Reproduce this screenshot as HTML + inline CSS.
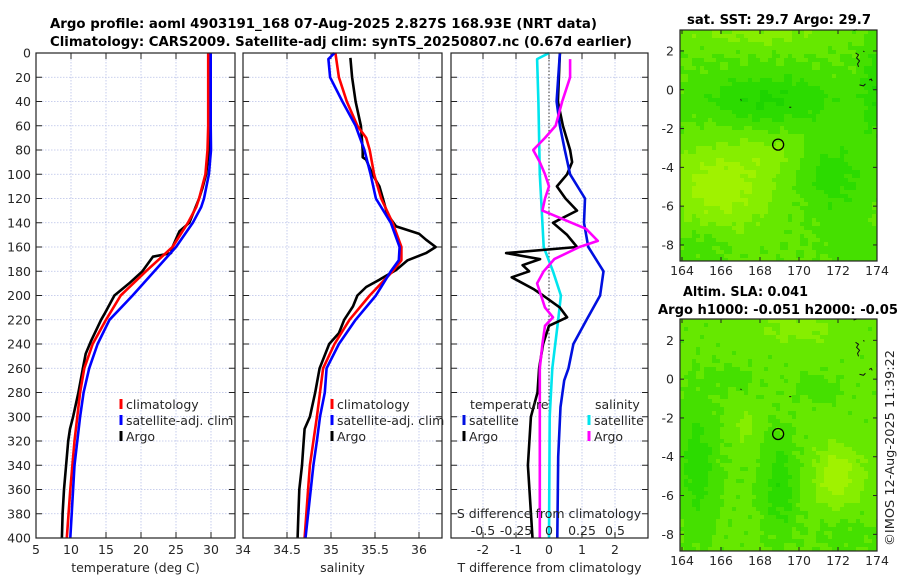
<!DOCTYPE html>
<html><head><meta charset="utf-8">
<style>
html,body{margin:0;padding:0;background:#fff;}
svg{display:block;font-family:"DejaVu Sans","Liberation Sans",sans-serif;}
.t{font-size:12.5px;fill:#262626;}
.b{font-weight:bold;font-size:13.5px;fill:#000;}
</style></head>
<body>
<svg id="fig" width="900" height="580" viewBox="0 0 900 580" xmlns="http://www.w3.org/2000/svg">
<rect width="900" height="580" fill="#fff"/>
<text class="b" x="50" y="28" textLength="547" lengthAdjust="spacingAndGlyphs">Argo profile: aoml 4903191_168 07-Aug-2025 2.827S 168.93E (NRT data)</text>
<text class="b" x="50" y="46" textLength="582" lengthAdjust="spacingAndGlyphs">Climatology: CARS2009. Satellite-adj clim: synTS_20250807.nc (0.67d earlier)</text>
<text class="b" x="687" y="24" textLength="184" lengthAdjust="spacingAndGlyphs">sat. SST: 29.7 Argo: 29.7</text>
<text class="b" x="683" y="296" textLength="125" lengthAdjust="spacingAndGlyphs">Altim. SLA: 0.041</text>
<text class="b" x="658" y="314" textLength="240" lengthAdjust="spacingAndGlyphs">Argo h1000: -0.051 h2000: -0.05</text>
<text class="t" transform="translate(894,448) rotate(-90)" text-anchor="middle" textLength="196" lengthAdjust="spacingAndGlyphs">©IMOS 12-Aug-2025 11:39:22</text>
<g id="layer"></g>
</svg>
<script>
// ---- depth grid ----
const depthTicks = [0,20,40,60,80,100,120,140,160,180,200,220,240,260,280,300,320,340,360,380,400];
// ---- temperature panel ----
const tTicks = [5,10,15,20,25,30];
const climT_depth = [0,20,40,60,80,100,120,127,140,160,180,200,220,240,260,280,300,320,340,360,400];
const climT_val   = [29.6,29.6,29.6,29.6,29.5,29.2,28.3,27.9,26.7,24.5,20.7,17.1,15.0,13.1,11.9,11.3,10.9,10.5,10.2,9.9,9.4];
const satT_depth  = [0,20,40,60,80,100,120,127,140,160,180,200,220,240,260,280,300,320,340,400];
const satT_val    = [29.95,29.95,29.95,29.95,30.0,29.7,29.0,28.6,27.4,25.0,21.9,18.8,15.5,13.8,12.6,11.8,11.3,10.9,10.5,9.9];
const argoT_depth = [0,20,40,60,80,100,111,120,140,147,160,165,168,180,190,200,215,220,237,248,260,280,300,310,320,340,360,380,400];
const argoT_val   = [29.8,29.8,29.8,29.8,29.7,29.3,28.8,28.3,26.9,25.5,24.5,24.3,21.7,20.2,18.3,16.2,14.8,14.3,12.9,12.1,11.7,11.05,10.3,9.86,9.6,9.3,9.0,8.8,8.7];
// ---- salinity panel ----
const sTicks = [34,34.5,35,35.5,36];
const sTickLabels = ["34","34.5","35","35.5","36"];
const climS_depth = [0,20,40,60,70,80,100,120,140,160,171,180,200,220,240,260,280,300,320,340,360,400];
const climS_val   = [35.05,35.09,35.18,35.30,35.40,35.44,35.49,35.57,35.70,35.80,35.80,35.70,35.44,35.21,35.04,34.91,34.875,34.84,34.80,34.76,34.74,34.70];
const satS_depth  = [0,5,20,40,60,80,100,120,140,160,171,180,200,220,240,260,280,300,320,340,400];
const satS_val    = [35.04,34.97,34.99,35.13,35.28,35.38,35.45,35.51,35.68,35.78,35.77,35.68,35.51,35.28,35.09,34.95,34.93,34.875,34.84,34.80,34.71];
const argoS_depth = [4,20,40,60,80,86,88,100,110,120,133,143,149,154,160,165,171,179,187,193,200,209,220,231,240,260,280,300,310,320,340,360,380,400];
const argoS_val   = [35.22,35.24,35.28,35.34,35.36,35.36,35.40,35.47,35.55,35.59,35.64,35.74,36.0,36.08,36.19,36.08,35.87,35.74,35.55,35.40,35.30,35.25,35.15,35.09,34.98,34.87,34.82,34.76,34.70,34.69,34.67,34.64,34.63,34.62];
// ---- difference panel ----
const dTTicks = [-2,-1,0,1,2];
const dSTicks = [-0.5,-0.25,0,0.25,0.5];
const dSTickLabels = ["-0.5","-0.25","0","0.25","0.5"];
const satDT_depth = [0,40,60,80,100,120,140,160,180,200,220,240,260,270,292,333,400];
const satDT_val   = [0.33,0.23,0.33,0.48,0.64,1.09,1.06,1.19,1.65,1.55,1.14,0.74,0.59,0.46,0.35,0.28,0.25];
const argoDT_depth = [0,40,60,80,90,100,110,120,130,140,150,160,165,170,175,180,185,195,200,210,218,225,240,260,280,300,340,400];
const argoDT_val   = [0.33,0.27,0.42,0.64,0.7,0.55,0.24,0.5,0.85,0.12,0.55,0.85,-1.3,-0.27,-0.8,-0.6,-1.13,-0.45,-0.18,0.33,0.55,0,-0.18,-0.3,-0.35,-0.55,-0.64,-0.5];
const satDS_depth = [0,5,40,100,140,160,180,200,220,260,300,400];
const satDS_val   = [0.0,-0.09,-0.08,-0.07,-0.05,-0.04,0.03,0.09,0.07,0.025,0.005,0.0];
const argoDS_depth = [5,20,40,60,70,80,90,100,110,120,130,145,155,160,170,180,190,210,218,225,240,260,300,400];
const argoDS_val   = [0.16,0.16,0.1,0.05,-0.03,-0.12,-0.07,-0.03,0,-0.03,-0.05,0.28,0.37,0.23,0.04,-0.04,-0.09,-0.03,0.03,-0.03,-0.05,-0.07,-0.07,-0.07];
// ---- maps ----
const mapLonTicks = [164,166,168,170,172,174];
const mapLatTicks = [2,0,-2,-4,-6,-8];
const argoLon = 168.93, argoLat = -2.827;

const NS='http://www.w3.org/2000/svg';
const layer=document.getElementById('layer');
function el(tag,attrs,parent,txt){const e=document.createElementNS(NS,tag);for(const k in attrs)e.setAttribute(k,attrs[k]);if(txt!==undefined)e.textContent=txt;(parent||layer).appendChild(e);return e;}

const TOP=53,BOT=538;
const yD=d=>TOP+d*(BOT-TOP)/400;

function panel(name,x0,x1,xs,ticks,labels,ylabels,xtitle){
  const g=el('g',{});
  
  
  depthTicks.forEach(d=>{el('line',{x1:x0,x2:x1,y1:yD(d),y2:yD(d),stroke:'#b8c0e8','stroke-width':0.8,'stroke-dasharray':'1.5,1.5'},g);});
  ticks.forEach(v=>{el('line',{x1:xs(v),x2:xs(v),y1:TOP,y2:BOT,stroke:'#b8c0e8','stroke-width':0.8,'stroke-dasharray':'1.5,1.5'},g);});
  depthTicks.forEach(d=>{el('line',{x1:x0,x2:x0+6,y1:yD(d),y2:yD(d),stroke:'#222'},g);el('line',{x1:x1-6,x2:x1,y1:yD(d),y2:yD(d),stroke:'#222'},g);});
  ticks.forEach(v=>{el('line',{x1:xs(v),x2:xs(v),y1:BOT,y2:BOT-6,stroke:'#222'},g);el('line',{x1:xs(v),x2:xs(v),y1:TOP,y2:TOP+6,stroke:'#222'},g);});
  if(ylabels){depthTicks.forEach(d=>{const t=el('text',{class:'t',x:x0-5,y:yD(d)+4.5,'text-anchor':'end'},g,String(d));});}
  if(labels){ticks.forEach((v,i)=>{const t=el('text',{class:'t',x:xs(v),y:554,'text-anchor':'middle'},g,labels[i]);});}
  if(xtitle){const t=el('text',{class:'t',x:(x0+x1)/2,y:572,'text-anchor':'middle'},g,xtitle);}
  return g;
}
function border(x0,x1){el('rect',{x:x0,y:TOP,width:x1-x0,height:BOT-TOP,fill:'none',stroke:'#222','stroke-width':1.2});}
function series(name,ds,vs,xs,color,x0,x1){
  const pts=ds.map((d,i)=>Math.min(x1,Math.max(x0,xs(vs[i]))).toFixed(1)+','+yD(d).toFixed(1)).join(' ');
  const p=el('polyline',{points:pts,fill:'none',stroke:color,'stroke-width':2.6,'stroke-linejoin':'round'});
  
  
}
function legendItem(x,y,color,label,name){
  el('line',{x1:x,x2:x,y1:y-10,y2:y,stroke:color,'stroke-width':3});
  const t=el('text',{class:'t',x:x+5,y:y,'font-size':'13px'},layer,label);
  
  
}

// Panel 1: temperature
const xT=v=>36+(v-5)*7;
panel('temperature-panel',36,235,xT,tTicks,tTicks.map(String),true,'temperature (deg C)');
series('argo-temperature-line',argoT_depth,argoT_val,xT,'#000',36,235);
series('climatology-temperature-line',climT_depth,climT_val,xT,'#f00',36,235);
series('satellite-temperature-line',satT_depth,satT_val,xT,'#00f',36,235);
border(36,235);
legendItem(121,409,'#f00','climatology','legend-climatology');
legendItem(121,425,'#00f','satellite-adj. clim','legend-satellite-adj');
legendItem(121,441,'#000','Argo','legend-argo');

// Panel 2: salinity
const xS=v=>243+(v-34)*88;
panel('salinity-panel',243,442,xS,sTicks,sTickLabels,false,'salinity');
series('argo-salinity-line',argoS_depth,argoS_val,xS,'#000',243,442);
series('climatology-salinity-line',climS_depth,climS_val,xS,'#f00',243,442);
series('satellite-salinity-line',satS_depth,satS_val,xS,'#00f',243,442);
border(243,442);
legendItem(332,409,'#f00','climatology','legend-climatology-s');
legendItem(332,425,'#00f','satellite-adj. clim','legend-satellite-adj-s');
legendItem(332,441,'#000','Argo','legend-argo-s');

// Panel 3: differences
const xdT=v=>549+v*33;
const xdS=v=>549+v*132;
panel('difference-panel',451,648,xdT,dTTicks,dTTicks.map(String),false,'T difference from climatology');
el('line',{x1:549,x2:549,y1:TOP,y2:BOT,stroke:'#333','stroke-width':1,'stroke-dasharray':'1.5,2'});
series('satellite-salinity-diff-line',satDS_depth,satDS_val,xdS,'#00e5ee',451,648);
series('argo-temperature-diff-line',argoDT_depth,argoDT_val,xdT,'#000',451,648);
series('satellite-temperature-diff-line',satDT_depth,satDT_val,xdT,'#0010e0',451,648);
series('argo-salinity-diff-line',argoDS_depth,argoDS_val,xdS,'#f0f',451,648);
border(451,648);
dSTicks.forEach((v,i)=>{const t=el('text',{class:'t',x:xdS(v),y:535,'text-anchor':'middle'},layer,dSTickLabels[i]);});
{const t=el('text',{class:'t',x:549,y:518,'text-anchor':'middle','font-size':'13px'},layer,'S difference from climatology');}
{const t=el('text',{class:'t',x:470,y:409,'font-size':'13px'},layer,'temperature');}
{const t=el('text',{class:'t',x:595,y:409,'font-size':'13px'},layer,'salinity');}
legendItem(464,425,'#0010e0','satellite','legend-t-satellite');
legendItem(464,441,'#000','Argo','legend-t-argo');
legendItem(589,425,'#00e5ee','satellite','legend-s-satellite');
legendItem(589,441,'#f0f','Argo','legend-s-argo');

// Maps
const palette=['#1ed400','#2cdb00','#45e000','#66e800','#86ee00','#a0f200'];
function field(lon,lat,blobs,base){let v=base;blobs.forEach(b=>{const dx=(lon-b[0])/b[2],dy=(lat-b[1])/b[3];v+=b[4]*Math.exp(-(dx*dx+dy*dy));});return v;}
const sstBlobs=[[168.5,-0.5,3.5,1.3,-2.2],[171.8,-4.5,1.5,2.0,-1.6],[174,0,0.8,3,-1.8],[166,-5,2.5,2.2,2.6],[168,2.8,4,0.6,1.2],[165,-8,1.5,1,-0.8],[173,-8,1.5,1,-0.8],[168.7,-3.3,1.5,1,1.0]];
const slaBlobs=[[164.8,-4.5,1.0,3.5,-1.8],[169,-5.5,0.9,2.5,-2.0],[172,-5,1.2,1.6,2.4],[170,2.6,2,0.8,1.2],[167.3,-2.5,0.6,0.8,1.2],[171,-0.5,1,0.6,-1.2],[166.5,0,1.2,0.6,-0.8],[172.5,-8,1.5,1,-0.8]];
function drawMap(name,top,bot,blobs,base){
  const g=el('g',{});
  
  
  const x0=680,x1=877,latTop=top===30?3.08:3.1;
  const yL=lat=>top+(latTop-lat)*19.4;
  const xL=lon=>682+(lon-164)*19.5;
  const cell=4;
  for(let x=x0;x<x1;x+=cell){for(let y=top;y<bot;y+=cell){
    const lon=164+(x+cell/2-682)/19.5, lat=latTop-(y+cell/2-top)/19.4;
    let v=field(lon,lat,blobs,base)+0.35*Math.sin(lon*5.3+lat*3.1)*Math.cos(lat*4.7-lon*1.3);
    let k=Math.max(0,Math.min(5,Math.round(v)));
    el('rect',{x:x,y:y,width:Math.min(cell,x1-x),height:Math.min(cell,bot-y),fill:palette[k]},g);
  }}
  el('rect',{x:x0,y:top,width:x1-x0,height:bot-top,fill:'none',stroke:'#222','stroke-width':1.2},g);
  mapLatTicks.forEach(l=>{el('line',{x1:x0,x2:x0+4,y1:yL(l),y2:yL(l),stroke:'#222'},g);el('line',{x1:x1-4,x2:x1,y1:yL(l),y2:yL(l),stroke:'#222'},g);
    const t=el('text',{class:'t',x:x0-6,y:yL(l)+4.5,'text-anchor':'end'},g,String(l));});
  mapLonTicks.forEach(l=>{el('line',{x1:xL(l),x2:xL(l),y1:bot,y2:bot-4,stroke:'#222'},g);el('line',{x1:xL(l),x2:xL(l),y1:top,y2:top+4,stroke:'#222'},g);
    const t=el('text',{class:'t',x:xL(l),y:bot+14,'text-anchor':'middle'},g,String(l));});
  el('path',{d:`M${xL(172.9)} ${yL(1.9)} l3 2 l-2 3 l3 3 l-2 3 l1 3 M${xL(173.3)} ${yL(2)} l1 1 M${xL(173.1)} ${yL(0.25)} l4 1 l2 -2 M${xL(173.6)} ${yL(0.5)} l2 -1 l1 2 M${xL(172.8)} ${yL(3.05)} l3 -1 M${xL(167)} ${yL(-0.5)} l1 1 M${xL(169.5)} ${yL(-0.9)} l2 0`,fill:'none',stroke:'#111','stroke-width':1},g);
  const c=el('circle',{cx:xL(argoLon),cy:yL(argoLat),r:5.5,fill:'none',stroke:'#000','stroke-width':1.3},g);
  
  
}
drawMap('sst-map',30,261,sstBlobs,2.6);
drawMap('sla-map',319,551,slaBlobs,2.8);
</script>
</body></html>
